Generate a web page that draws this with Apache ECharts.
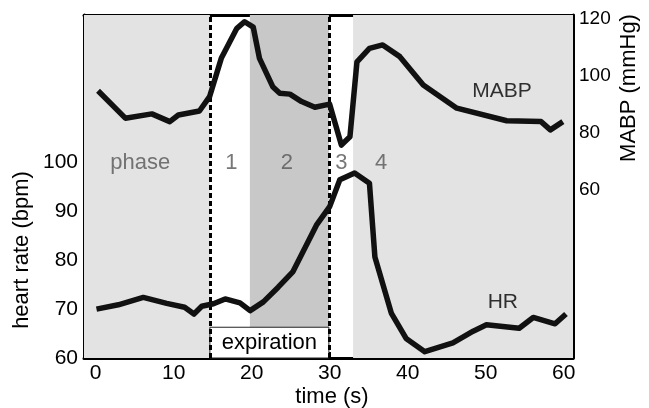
<!DOCTYPE html>
<html>
<head>
<meta charset="utf-8">
<script src="https://cdn.jsdelivr.net/npm/echarts@6/dist/echarts.min.js"></script>
<style>
  html, body { margin: 0; padding: 0; background: #fff; }
  #chart { width: 649px; height: 408px; }
</style>
</head>
<body>
<div id="chart"></div>
<script>
// Heart rate (bpm) against time (s)
var hrTime = [0.1, 2.9, 6.1, 9.1, 11.4, 12.6, 13.6, 15.1, 16.6, 18.5, 19.8, 21.5, 23.4, 25.3, 28.3, 30.0, 31.3, 33.2, 35.1, 35.8, 37.9, 39.8, 42.2, 45.8, 48.4, 50.1, 54.3, 56.1, 58.9, 60.3];
var hrValues = [70.0, 70.9, 72.4, 71.2, 70.4, 69.0, 70.6, 71.1, 72.1, 71.3, 69.7, 71.5, 74.5, 77.7, 87.2, 91.0, 96.5, 97.9, 95.8, 80.7, 69.2, 64.0, 61.3, 63.1, 65.5, 66.8, 66.1, 68.3, 67.0, 69.0];

// Mean arterial blood pressure (mmHg) against time (s)
var mabpTime = [0.3, 3.8, 7.2, 9.5, 10.6, 13.3, 14.6, 16.1, 18.1, 19.1, 20.2, 21.0, 22.7, 23.6, 24.9, 26.4, 28.1, 30.0, 30.7, 31.5, 32.6, 33.5, 35.1, 36.8, 39.0, 42.0, 46.3, 52.7, 57.1, 58.3, 59.9];
var mabpValues = [94.7, 85.1, 86.6, 83.9, 86.2, 87.6, 92.6, 106.0, 116.5, 118.8, 116.9, 106.0, 96.1, 93.8, 93.5, 90.9, 88.9, 90.0, 83.3, 75.7, 78.6, 104.8, 109.5, 110.7, 106.6, 96.7, 88.6, 84.2, 83.9, 81.0, 83.9];

// phase boundaries (s)
var lightPhases = [[-1.5, 14.64], [33.0, 61.2]];
var darkPhases = [[19.77, 29.9]];
var dottedLines = [14.64, 29.9];
var expiration = { name: 'expiration', from: 14.64, to: 29.9, top: 66.3 };

// text placed in the plot: [time, value, text]
var phaseLabels = [[5.7, 100, 'phase'], [17.4, 100, '1'], [24.5, 100, '2'], [31.5, 100, '3'], [36.6, 100, '4']];
var curveLabelsHR = [[52.2, 71.5, 'HR']];
var curveLabelsMABP = [[52.1, 94.4, 'MABP']];

// ticks
var xTicks = [0, 10, 20, 30, 40, 50, 60];
var xMinorTicks = [5, 15, 25, 35, 45, 55];
var hrTicks = [60, 70, 80, 90, 100];
var hrMinorTicks = [65, 75, 85, 95];
var mabpTicks = [60, 80, 100, 120];
var mabpMinorTicks = [70, 90, 110];

var font = 'Liberation Sans, Arial, sans-serif';

function zip(xs, ys) {
    var out = [];
    for (var i = 0; i < xs.length; i++) out.push([xs[i], ys[i]]);
    return out;
}

function xAxisDef(pos, ticks, len, labels, line) {
    return {
        type: 'value', position: pos, min: -1.5, max: 61.2,
        splitLine: { show: false },
        axisLine: { show: line, onZero: false, lineStyle: { color: '#000', width: 3 } },
        axisTick: { show: ticks.length > 0, inside: true, length: len, customValues: ticks, lineStyle: { color: '#000', width: 2 } },
        axisLabel: { show: labels, customValues: ticks, margin: 5, fontSize: 21, color: '#000', fontFamily: font }
    };
}

function yAxisDef(pos, min, max, ticks, len, labels, size) {
    return {
        type: 'value', position: pos, min: min, max: max,
        splitLine: { show: false },
        axisLine: { show: labels, onZero: false, lineStyle: { color: '#000', width: 3 } },
        axisTick: { show: true, inside: true, length: len, customValues: ticks, lineStyle: { color: '#000', width: 2 } },
        axisLabel: { show: labels, customValues: ticks, margin: 6, fontSize: size, color: '#000', fontFamily: font }
    };
}

var myChart = echarts.init(document.getElementById('chart'), null, { renderer: 'canvas' });

var option = {
    animation: false,
    backgroundColor: '#fff',
    grid: { left: 84, right: 76, top: 15, bottom: 50, show: false },
    xAxis: [
        xAxisDef('bottom', xTicks, 6, true, true),
        xAxisDef('bottom', xMinorTicks, 3, false, false),
        // top frame line
        xAxisDef('top', [], 0, false, true)
    ],
    yAxis: [
        yAxisDef('left', 60, 130.25, hrTicks, 6, true, 21),
        yAxisDef('left', 60, 130.25, hrMinorTicks, 3, false, 21),
        yAxisDef('right', 1.3, 121.15, mabpTicks, 6, true, 19),
        yAxisDef('right', 1.3, 121.15, mabpMinorTicks, 4, false, 19)
    ],
    graphic: [
        { type: 'text', x: 22, y: 250, rotation: Math.PI / 2,
          style: { text: 'heart rate (bpm)', fontSize: 22, fontFamily: font, fill: '#000', align: 'center', verticalAlign: 'middle' } },
        { type: 'text', x: 629, y: 88, rotation: Math.PI / 2,
          style: { text: 'MABP (mmHg)', fontSize: 22, fontFamily: font, fill: '#000', align: 'center', verticalAlign: 'middle' } },
        { type: 'text', x: 332, y: 397,
          style: { text: 'time (s)', fontSize: 22, fontFamily: font, fill: '#000', align: 'center', verticalAlign: 'middle' } }
    ],
    series: [
        {
            // grey phase shading
            type: 'line', xAxisIndex: 0, yAxisIndex: 0, z: 1, silent: true, data: [],
            markArea: {
                silent: true,
                data: lightPhases.map(function (p) {
                    return [{ xAxis: p[0], itemStyle: { color: '#e3e3e3' } }, { xAxis: p[1] }];
                }).concat(darkPhases.map(function (p) {
                    return [{ xAxis: p[0], itemStyle: { color: '#c8c8c8' } }, { xAxis: p[1] }];
                }))
            }
        },
        {
            // expiration box
            type: 'line', xAxisIndex: 0, yAxisIndex: 0, z: 2, silent: true, data: [],
            markArea: {
                silent: true,
                itemStyle: { color: '#fff', borderColor: '#222', borderWidth: 1 },
                label: { show: true, position: 'inside', fontSize: 22, color: '#000', fontFamily: font },
                data: [[{ name: expiration.name, xAxis: expiration.from, yAxis: 60 }, { xAxis: expiration.to, yAxis: expiration.top }]]
            }
        },
        {
            // dotted phase boundaries
            type: 'line', xAxisIndex: 0, yAxisIndex: 0, z: 3, silent: true, data: [],
            markLine: {
                silent: true, symbol: 'none', label: { show: false },
                lineStyle: { color: '#000', width: 3, type: [5, 3] },
                data: dottedLines.map(function (x) { return { xAxis: x }; })
            }
        },
        {
            name: 'HR', type: 'line', xAxisIndex: 0, yAxisIndex: 0, z: 5,
            data: zip(hrTime, hrValues), showSymbol: false, symbol: 'none',
            lineStyle: { color: '#111', width: 5.5, join: 'round' }
        },
        {
            name: 'MABP', type: 'line', xAxisIndex: 0, yAxisIndex: 2, z: 5,
            data: zip(mabpTime, mabpValues), showSymbol: false, symbol: 'none',
            lineStyle: { color: '#111', width: 5.5, join: 'round' }
        },
        {
            type: 'scatter', xAxisIndex: 0, yAxisIndex: 0, z: 6, silent: true,
            symbolSize: 1, itemStyle: { color: 'rgba(0,0,0,0)' },
            data: phaseLabels,
            label: { show: true, position: 'inside', fontSize: 22, color: '#555', fontFamily: font,
                     formatter: function (p) { return p.data[2]; } }
        },
        {
            type: 'scatter', xAxisIndex: 0, yAxisIndex: 0, z: 6, silent: true,
            symbolSize: 1, itemStyle: { color: 'rgba(0,0,0,0)' },
            data: curveLabelsHR,
            label: { show: true, position: 'inside', fontSize: 21, color: '#000', fontFamily: font,
                     formatter: function (p) { return p.data[2]; } }
        },
        {
            type: 'scatter', xAxisIndex: 0, yAxisIndex: 2, z: 6, silent: true,
            symbolSize: 1, itemStyle: { color: 'rgba(0,0,0,0)' },
            data: curveLabelsMABP,
            label: { show: true, position: 'inside', fontSize: 21, color: '#000', fontFamily: font,
                     formatter: function (p) { return p.data[2]; } }
        }
    ]
};

myChart.setOption(option);

window.onresize = function () {
    myChart.resize();
};
</script>
</body>
</html>
